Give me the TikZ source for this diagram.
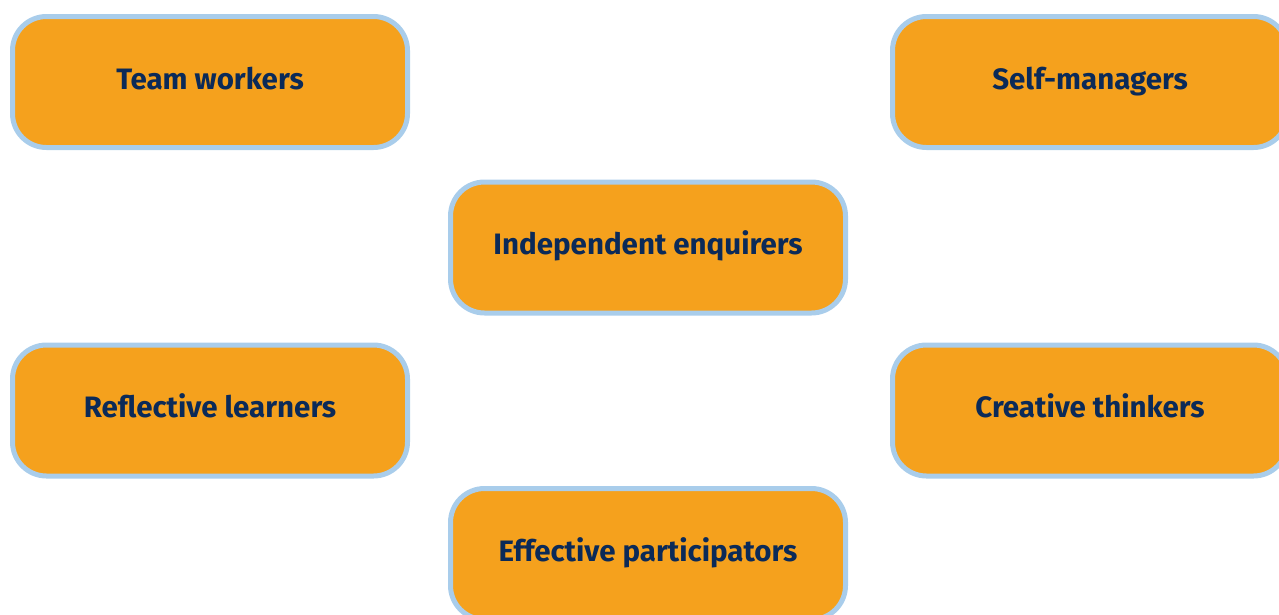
\documentclass[tikz,border=0pt]{standalone}
\usepackage{fontspec}
\setmainfont{Fira Sans}
\definecolor{boxfill}{HTML}{F5A11D}
\definecolor{boxline}{HTML}{A9CDEB}
\definecolor{boxtext}{HTML}{0B2A58}
\begin{document}
\begin{tikzpicture}[x=1pt,y=-1pt,
  skill/.style={draw=boxline, fill=boxfill, line width=5pt, rounded corners=34pt,
    minimum width=395pt, minimum height=131pt, inner sep=0pt,
    text height=22pt, text depth=8pt,
    text=boxtext, font=\fontsize{29.5}{34}\selectfont\bfseries}]
\useasboundingbox (0,0) rectangle (1279,614);
\node[skill] (team) at (210,82) {Team workers};
\node[skill] (self) at (1090,82) {Self-managers};
\node[skill] (indep) at (648,247.5) {Independent enquirers};
\node[skill] (refl) at (210,410.5) {Reflective learners};
\node[skill] (creat) at (1090,410.5) {Creative thinkers};
\node[skill] (eff) at (648,554) {Effective participators};
\end{tikzpicture}
\end{document}
